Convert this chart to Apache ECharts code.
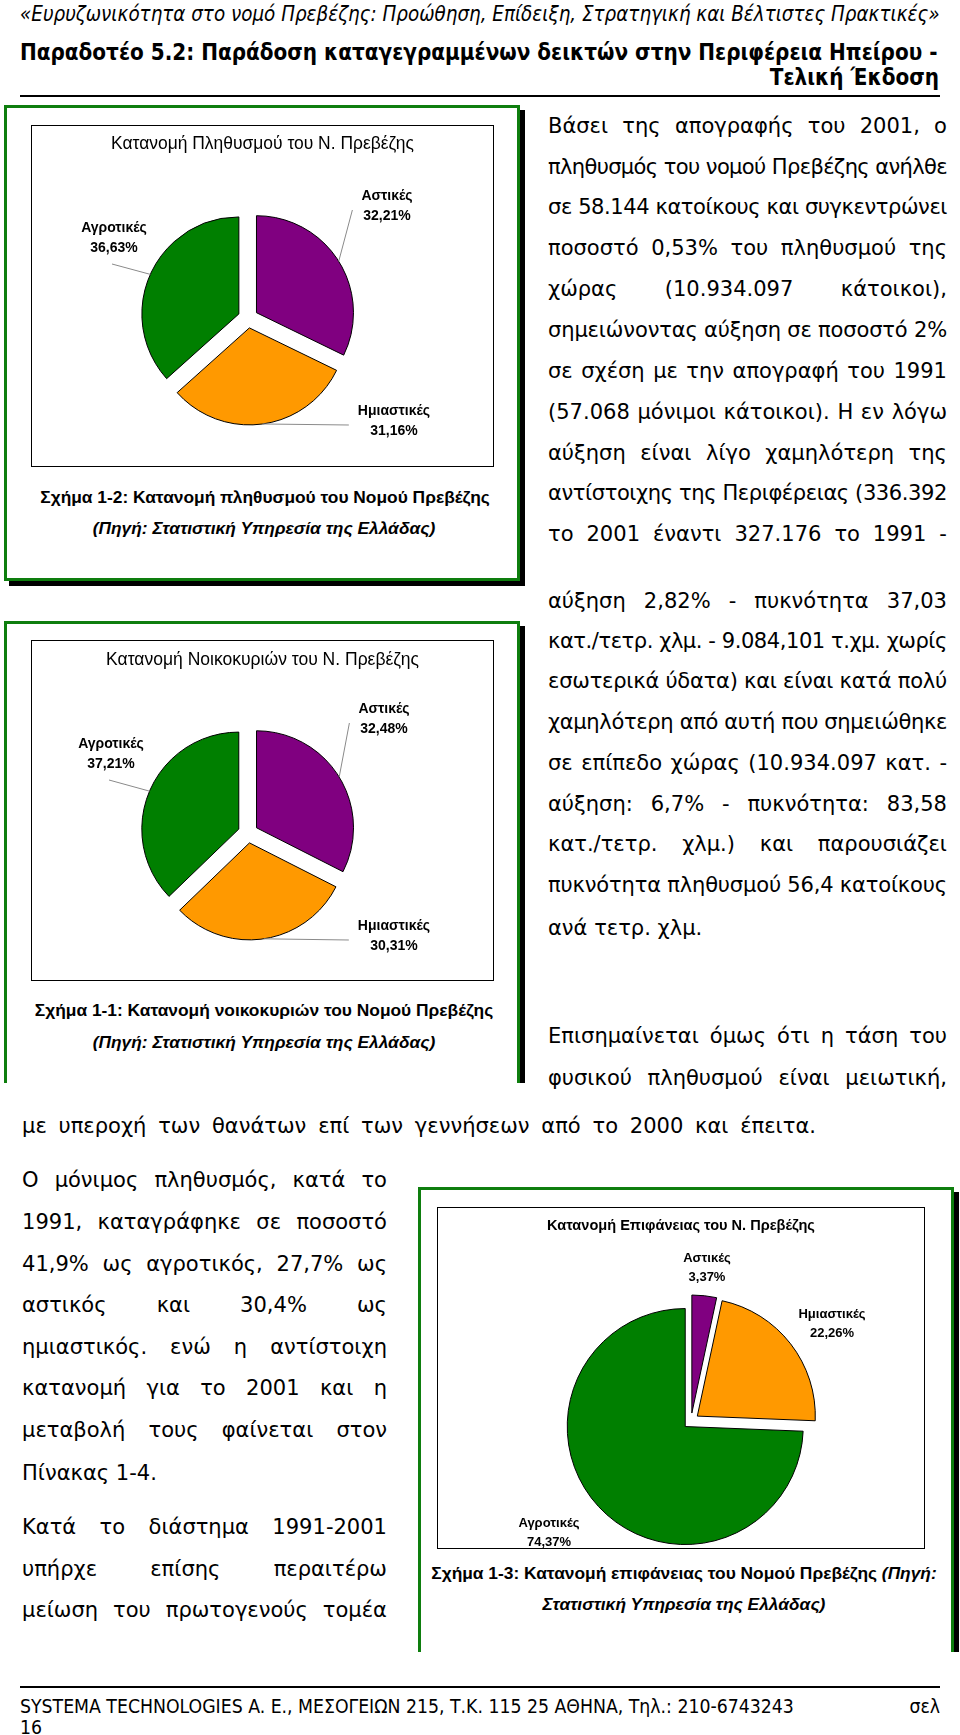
<!DOCTYPE html>
<html lang="el">
<head>
<meta charset="utf-8">
<title>Κατανομή Ν. Πρεβέζης</title>
<script src="https://cdn.jsdelivr.net/npm/echarts@6/dist/echarts.min.js"></script>
<style>
  html, body { margin:0; padding:0; background:#fff; }
  #page { position:relative; width:960px; height:1735px; overflow:hidden; background:#fff; }
  .t { position:absolute; white-space:nowrap; color:#000; }
  .jl { position:absolute; display:flex; justify-content:space-between; white-space:nowrap; color:#000; }
  .g { position:absolute; background:#0e7e0e; }
  .k { position:absolute; background:#000; }
  .frame { position:absolute; border:1.5px solid #000; box-sizing:border-box; z-index:1; }
  .chart { position:absolute; z-index:2; }
</style>
</head>
<body>
<div id="page"></div>
<script>
// ---------------- data ----------------
const categories = ['Αστικές', 'Ημιαστικές', 'Αγροτικές'];
const populationShare = [32.21, 31.16, 36.63];
const householdShare = [32.48, 30.31, 37.21];
const areaShare = [3.37, 22.26, 74.37];
const sliceColors = ['#800080', '#FF9900', '#007F00'];
const chartTitles = [
  'Κατανομή Πληθυσμού του Ν. Πρεβέζης',
  'Κατανομή Νοικοκυριών του Ν. Πρεβέζης',
  'Κατανομή Επιφάνειας του Ν. Πρεβέζης'
];
const captions = [
  'Σχήμα 1-2: Κατανομή πληθυσμού του Νομού Πρεβέζης',
  'Σχήμα 1-1: Κατανομή νοικοκυριών του Νομού Πρεβέζης',
  'Σχήμα 1-3: Κατανομή επιφάνειας του Νομού Πρεβέζης'
];
const sourceText = '(Πηγή: Στατιστική Υπηρεσία της Ελλάδας)';

const headerLine = '«Ευρυζωνικότητα στο νομό Πρεβέζης: Προώθηση, Επίδειξη, Στρατηγική και Βέλτιστες Πρακτικές»';
const titleLine1 = 'Παραδοτέο 5.2: Παράδοση καταγεγραμμένων δεικτών στην Περιφέρεια Ηπείρου -';
const titleLine2 = 'Τελική Έκδοση';
const footerLine = 'SYSTEMA TECHNOLOGIES A. E., ΜΕΣΟΓΕΙΩΝ 215, Τ.Κ. 115 25 ΑΘΗΝΑ, Τηλ.: 210-6743243';

const rightParagraph = [
  'Βάσει της απογραφής του 2001, ο',
  'πληθυσμός του νομού Πρεβέζης ανήλθε',
  'σε 58.144 κατοίκους και συγκεντρώνει',
  'ποσοστό 0,53% του πληθυσμού της',
  'χώρας (10.934.097 κάτοικοι),',
  'σημειώνοντας αύξηση σε ποσοστό 2%',
  'σε σχέση με την απογραφή του 1991',
  '(57.068 μόνιμοι κάτοικοι). Η εν λόγω',
  'αύξηση είναι λίγο χαμηλότερη της',
  'αντίστοιχης της Περιφέρειας (336.392',
  'το 2001 έναντι 327.176 το 1991 -',
  'αύξηση 2,82% - πυκνότητα 37,03',
  'κατ./τετρ. χλμ. - 9.084,101 τ.χμ. χωρίς',
  'εσωτερικά ύδατα) και είναι κατά πολύ',
  'χαμηλότερη από αυτή που σημειώθηκε',
  'σε επίπεδο χώρας (10.934.097 κατ. -',
  'αύξηση: 6,7% - πυκνότητα: 83,58',
  'κατ./τετρ. χλμ.) και παρουσιάζει',
  'πυκνότητα πληθυσμού 56,4 κατοίκους',
  'ανά τετρ. χλμ.'
];
const trendParagraph = [
  'Επισημαίνεται όμως ότι η τάση του',
  'φυσικού πληθυσμού είναι μειωτική,'
];
const trendLastLine = 'με υπεροχή των θανάτων επί των γεννήσεων από το 2000 και έπειτα.';
const leftParagraph = [
  'Ο μόνιμος πληθυσμός, κατά το',
  '1991, καταγράφηκε σε ποσοστό',
  '41,9% ως αγροτικός, 27,7% ως',
  'αστικός και 30,4% ως',
  'ημιαστικός. ενώ η αντίστοιχη',
  'κατανομή για το 2001 και η',
  'μεταβολή τους φαίνεται στον',
  'Πίνακας 1-4.',
  'Κατά το διάστημα 1991-2001',
  'υπήρχε επίσης περαιτέρω',
  'μείωση του πρωτογενούς τομέα'
];

// ---------------- layout ----------------
const BODY = '"DejaVu Sans", Verdana, sans-serif';
const ARIAL = '"Liberation Sans", Arial, sans-serif';
const NARROW = '"Liberation Sans Narrow", "DejaVu Sans Condensed", sans-serif';
const COND = '"DejaVu Sans Condensed", "Liberation Sans Narrow", sans-serif';

const rightYs = [127,168,208,249,290,331,372,413,454,494,535, 602,642,682,723,764,805,845,886,927];
const trendYs = [1037, 1079];
const leftYs = [1181,1223,1265,1306,1348,1389,1431,1472,1528,1570,1611];
const RIGHT_X = 548, RIGHT_W = 399, LEFT_X = 22, LEFT_W = 365;

const page = document.getElementById('page');
function el(cls, css, text) {
  const d = document.createElement('div');
  d.className = cls;
  for (const k in css) d.style[k] = (typeof css[k] === 'number') ? css[k] + 'px' : css[k];
  if (text != null) d.textContent = text;
  page.appendChild(d);
  return d;
}
function measure(text, font) {
  const s = document.createElement('span');
  s.style.cssText = 'position:absolute;visibility:hidden;white-space:nowrap;';
  s.style.font = font;
  s.textContent = text;
  document.body.appendChild(s);
  const w = s.getBoundingClientRect().width;
  s.remove();
  return w;
}
function fit(text, fontTpl, target) {
  return 100 * target / measure(text, fontTpl.replace('SIZE', '100px'));
}
function textLine(text, o) {
  const lh = Math.round(o.size * 1.4);
  const css = { font: o.font.replace('SIZE', o.size + 'px'), lineHeight: lh, top: o.y - lh / 2 };
  if (o.align === 'center') { css.left = o.x - 500; css.width = 1000; css.textAlign = 'center'; }
  else if (o.align === 'right') { css.left = o.x - 1000; css.width = 1000; css.textAlign = 'right'; }
  else css.left = o.x;
  const d = el('t', css);
  if (o.html) d.innerHTML = text; else d.textContent = text;
  return d;
}
// one justified line: words spread over the width; letters tightened only if the line would not fit
function justLine(text, o) {
  const lh = Math.round(o.size * 1.4);
  const d = el('jl', { left: o.x, top: o.y - lh / 2, width: o.w, lineHeight: lh, font: o.font.replace('SIZE', o.size + 'px') });
  const words = text.split(' ');
  const spans = words.map(w => { const s = document.createElement('span'); s.textContent = w; d.appendChild(s); return s; });
  const sum = spans.reduce((a, s) => a + s.getBoundingClientRect().width, 0);
  const gaps = Math.max(1, words.length - 1);
  const minGap = 0.3 * o.size;
  if ((o.w - sum) / gaps < minGap) {
    const chars = words.join('').length;
    const ls = (o.w - gaps * minGap - sum) / chars;
    d.style.letterSpacing = ls + 'px';
  }
  return d;
}
function greenFrame(x, y, w, h, bottom) {
  const t = 3, sh = 5;
  el('g', { left: x, top: y, width: w, height: t });
  el('g', { left: x, top: y, width: t, height: h });
  el('g', { left: x + w - t, top: y, width: t, height: h });
  el('k', { left: x + w, top: y + sh, width: sh, height: h - sh + (bottom ? sh : 0) });
  if (bottom) {
    el('g', { left: x, top: y + h - t, width: w, height: t });
    el('k', { left: x + sh, top: y + h, width: w, height: sh });
  }
}

// header
const hItal = 'italic normal SIZE ' + NARROW;
textLine(headerLine, { x: 20, y: 14, size: fit(headerLine, hItal, 920), font: hItal });
const hBold = 'normal bold SIZE ' + NARROW;
const hSize = fit(titleLine1, hBold, 918);
textLine(titleLine1, { x: 20, y: 52, size: hSize, font: hBold });
textLine(titleLine2, { x: 939, y: 77, size: hSize, font: hBold, align: 'right' });
el('k', { left: 20, top: 95, width: 920, height: 2 });

// body text
const bodyTpl = 'normal normal SIZE ' + BODY;
const bodySize = 0.93 * fit(trendLastLine, bodyTpl, 794);

rightParagraph.forEach((line, i) => {
  if (i === rightParagraph.length - 1) textLine(line, { x: RIGHT_X, y: rightYs[i], size: bodySize, font: bodyTpl });
  else justLine(line, { x: RIGHT_X, y: rightYs[i], w: RIGHT_W, size: bodySize, font: bodyTpl });
});
trendParagraph.forEach((line, i) => justLine(line, { x: RIGHT_X, y: trendYs[i], w: RIGHT_W, size: bodySize, font: bodyTpl }));
justLine(trendLastLine, { x: LEFT_X, y: 1127, w: 794, size: bodySize, font: bodyTpl });
leftParagraph.forEach((line, i) => {
  if (i === 7) textLine(line, { x: LEFT_X, y: leftYs[i], size: bodySize, font: bodyTpl });
  else justLine(line, { x: LEFT_X, y: leftYs[i], w: LEFT_W, size: bodySize, font: bodyTpl });
});

// footer
el('k', { left: 20, top: 1686, width: 920, height: 2 });
const fTpl = 'normal normal SIZE ' + COND;
const fSize = fit(footerLine, fTpl, 774);
textLine(footerLine, { x: 20, y: 1706, size: fSize, font: fTpl });
textLine('σελ', { x: 940, y: 1706, size: fSize, font: fTpl, align: 'right' });
textLine('16', { x: 20, y: 1727, size: fSize, font: fTpl });

// figure frames
greenFrame(4, 105, 516, 476, true);
greenFrame(4, 621, 516, 462, false);
greenFrame(418, 1187, 536, 465, false);

// captions
const capTpl = 'normal bold SIZE ' + ARIAL;
const srcTpl = 'italic bold SIZE ' + ARIAL;
const capSize = fit(captions[0], capTpl, 450);
textLine(captions[0], { x: 265, y: 497, size: capSize, font: capTpl, align: 'center' });
textLine(sourceText, { x: 264, y: 528, size: capSize, font: srcTpl, align: 'center' });
textLine(captions[1], { x: 264, y: 1010, size: capSize, font: capTpl, align: 'center' });
textLine(sourceText, { x: 264, y: 1042, size: capSize, font: srcTpl, align: 'center' });
const srcParts = sourceText.replace(')', '').split(' ');
textLine(captions[2] + ' <i>' + srcParts[0] + '</i>', { x: 684, y: 1573, size: capSize, font: capTpl, align: 'center', html: true });
textLine(srcParts.slice(1).join(' ') + ')', { x: 684, y: 1604, size: capSize, font: srcTpl, align: 'center' });

// ---------------- charts ----------------
function midAngles(values) {
  const total = values.reduce((a, b) => a + b, 0);
  let acc = 0;
  return values.map(v => { const m = (acc + v / 2) / total * 2 * Math.PI; acc += v; return m; });
}
function fmt(v) { return v.toFixed(2).replace('.', ',') + '%'; }

const chartCfgs = [
  { box: [31, 125, 463, 342], values: populationShare, title: chartTitles[0], titleW: 303, titleY: 22, titleBold: false,
    center: [217, 193], r: 97, off: 10, labelSize: 14, labelLH: 20,
    labels: [[356, 81], [363, 296], [83, 113]], anchors: ['left', 'left', 'bottom'], lines: true },
  { box: [31, 640, 463, 341], values: householdShare, title: chartTitles[1], titleW: 313, titleY: 22, titleBold: false,
    center: [217, 193], r: 97, off: 10, labelSize: 14, labelLH: 20,
    labels: [[353, 79], [363, 296], [80, 114]], anchors: ['left', 'left', 'bottom'], lines: true },
  { box: [437, 1207, 488, 342], values: areaShare, title: chartTitles[2], titleW: 268, titleY: 21, titleBold: true,
    center: [254, 214], r: 118, off: 8, labelSize: 13, labelLH: 19,
    labels: [[270, 61], [395, 117], [112, 326]], anchors: [], lines: false }
];

chartCfgs.forEach(cfg => {
  const [bx, by, bw, bh] = cfg.box;
  el('frame', { left: bx, top: by, width: bw, height: bh });
  const div = el('chart', { left: bx, top: by, width: bw, height: bh + 20 });
  const chart = echarts.init(div, null, { renderer: 'canvas', width: bw, height: bh + 20 });
  const mids = midAngles(cfg.values);
  const tTpl = (cfg.titleBold ? 'normal bold SIZE ' : 'normal normal SIZE ') + ARIAL;
  const tSize = fit(cfg.title, tTpl, cfg.titleW);
  const lblFont = 'normal bold ' + cfg.labelSize + 'px ' + ARIAL;

  // data labels (name + share) and their leader lines, placed around the pie
  const graphics = [];
  categories.forEach((name, i) => {
    const L = cfg.labels[i];
    const pct = fmt(cfg.values[i]);
    graphics.push({
      type: 'text', x: L[0], y: L[1], z: 20, silent: true,
      style: { text: name + '\n' + pct, fill: '#000', fontFamily: ARIAL, fontWeight: 'bold',
               fontSize: cfg.labelSize, lineHeight: cfg.labelLH, align: 'center', verticalAlign: 'middle' }
    });
    if (cfg.lines) {
      const a = mids[i], rr = cfg.r + cfg.off;
      const p0 = [cfg.center[0] + rr * Math.sin(a), cfg.center[1] - rr * Math.cos(a)];
      const w = Math.max(measure(name, lblFont), measure(pct, lblFont));
      const p1 = cfg.anchors[i] === 'left'
        ? [L[0] - w / 2 - 9, L[1] + 4]
        : [L[0] - 2, L[1] + cfg.labelLH + 6];
      graphics.push({
        type: 'polyline', z: 19, silent: true,
        shape: { points: [p0, p1] },
        style: { stroke: '#8a8a8a', lineWidth: 1, fill: null }
      });
    }
  });

  chart.setOption({
    animation: false,
    backgroundColor: 'transparent',
    title: {
      text: cfg.title, left: 'center', top: cfg.titleY - tSize * 0.62, padding: 0,
      textStyle: { fontFamily: ARIAL, fontSize: tSize, fontWeight: cfg.titleBold ? 'bold' : 'normal', color: '#000' }
    },
    graphic: { elements: graphics },
    series: [{
      type: 'pie',
      center: cfg.center,
      radius: cfg.r,
      startAngle: 90,
      clockwise: true,
      selectedMode: 'multiple',
      selectedOffset: cfg.off,
      avoidLabelOverlap: false,
      silent: true,
      data: categories.map((name, i) => ({ name, value: cfg.values[i], selected: true, itemStyle: { color: sliceColors[i] } })),
      itemStyle: { borderColor: '#000', borderWidth: 1 },
      label: { show: false },
      labelLine: { show: false },
      emphasis: { disabled: true },
      select: { itemStyle: { borderColor: '#000', borderWidth: 1 } }
    }]
  });
});
</script>
</body>
</html>
